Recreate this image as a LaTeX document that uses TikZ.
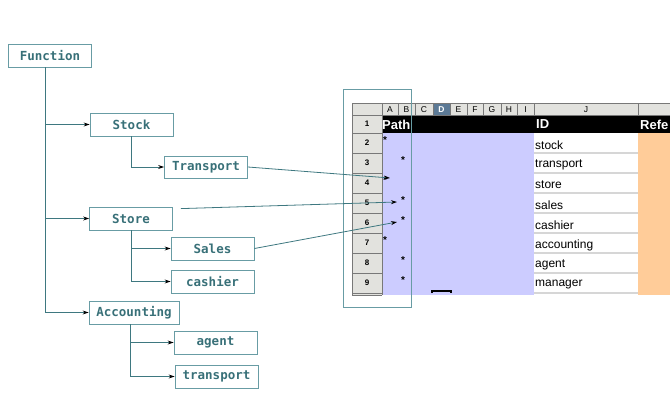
\documentclass[tikz,border=0pt]{standalone}
\usepackage{fontspec}
\setmainfont{Liberation Sans}
\newfontfamily\treefont{DejaVu Sans Mono}
\usetikzlibrary{positioning,arrows.meta}
\definecolor{tealline}{RGB}{62,120,128}
\definecolor{tealbox}{RGB}{104,156,164}
\definecolor{tealtext}{RGB}{56,112,120}
\definecolor{hdrgray}{RGB}{226,226,222}
\definecolor{gridgray}{RGB}{120,120,120}
\definecolor{lavender}{RGB}{204,204,255}
\definecolor{peach}{RGB}{255,204,153}
\definecolor{selcol}{RGB}{92,122,150}
\definecolor{sepgray}{RGB}{214,214,214}

\tikzset{
  fnbox/.style={draw=tealbox,line width=0.8pt,minimum width=83pt,minimum height=23pt,
    inner sep=0pt,text=tealtext,font=\treefont\bfseries\fontsize{12.5}{14}\selectfont},
  link/.style={draw=tealline,line width=0.8pt,-{Stealth[length=6pt,width=4pt,black]}},
  idtext/.style={anchor=west,inner sep=0pt,font=\fontsize{12}{13}\selectfont},
  rownum/.style={inner sep=0pt,font=\bfseries\fontsize{8}{9}\selectfont},
  colname/.style={inner sep=0pt,font=\fontsize{8.5}{9}\selectfont},
  star/.style={inner sep=0pt,font=\bfseries\fontsize{10}{10}\selectfont}
}

\begin{document}
\begin{tikzpicture}[x=1pt,y=-1pt]
\useasboundingbox (0,0) rectangle (670,400);

% tree of functions
\node[fnbox] (fn) at (50,55.5) {Function};
\node[fnbox] (stock) at (131.5,124.5) {Stock};
\node[fnbox,minimum height=22pt] (transp) at (206,167) {Transport};
\node[fnbox] (store) at (131,218.5) {Store};
\node[fnbox] (sales) at (212.5,248.5) {Sales};
\node[fnbox] (cashier) at (212.5,281.5) {cashier};
\node[fnbox,minimum width=90pt] (acct) at (134,312.5) {Accounting};
\node[fnbox] (agent) at (215.5,342.5) {agent};
\node[fnbox] (transp2) at (216.5,376.5) {transport};

\coordinate (trunk) at (45,0);
\draw[link] (trunk |- fn.south) |- (acct.west);
\draw[link] (trunk |- stock.west) -- (stock.west);
\draw[link] (trunk |- store.west) -- (store.west);
\draw[link] (stock.south) |- (transp.west);
\draw[link] (store.south) |- (sales.west);
\draw[link] (store.south) |- (cashier.west);
\draw[link] ([xshift=-4pt]acct.south) |- (agent.west);
\draw[link] ([xshift=-4pt]acct.south) |- (transp2.west);

% spreadsheet
\fill[hdrgray] (352,103) rectangle (670,115);
\fill[hdrgray] (352,115) rectangle (382,295);
\fill[selcol] (433,103) rectangle (450,115);
\fill[black] (382,115) rectangle (670,133);
\fill[lavender] (382,133) rectangle (534,295);
\fill[white] (534,133) rectangle (638,295);
\fill[peach] (638,133) rectangle (670,295);
\draw[gridgray,line width=0.6pt] (352,103) -- (670,103);
\draw[gridgray,line width=0.6pt] (352,115) -- (670,115);
\draw[gridgray,line width=1pt] (352,103) -- (352,295) -- (382,295);
\foreach \cx in {382,398,415,433,450,467,483,501,517,534,638}
  \draw[gridgray,line width=0.6pt] (\cx,103) -- (\cx,115);
\draw[gridgray,line width=0.6pt] (382,115) -- (382,295);
\foreach \ry in {133,153,173,193,213,233,253,273,293}
  \draw[gridgray,line width=0.6pt] (352,\ry) -- (382,\ry);
\foreach \ry in {153,173,193,213,233,253,273,293}
  \draw[sepgray,line width=1.5pt] (534,\ry) -- (638,\ry);
\draw[black,line width=1.5pt] (432,293) -- (432,291) -- (451,291) -- (451,293);

\foreach \name/\cx in {A/390,B/406.5,C/424,E/458.5,F/475,G/492,H/509,I/525.5,J/586}
  \node[colname] (col\name) at (\cx,109.5) {\name};
\node[colname,text=white,font=\bfseries\fontsize{8.5}{9}\selectfont] (colD) at (441.5,109.5) {D};

\foreach \r/\ry in {1/124,2/143,3/163,4/183,5/203,6/223,7/243,8/263,9/283}
  \node[rownum] (row\r) at (367,\ry) {\r};

\node[anchor=west,inner sep=0pt,text=white,font=\bfseries\fontsize{13}{14}\selectfont] (hpath) at (382,124.5) {Path};
\node[anchor=west,inner sep=0pt,text=white,font=\bfseries\fontsize{13}{14}\selectfont] (hid) at (536,124.5) {ID};
\node[anchor=west,inner sep=0pt,text=white,font=\bfseries\fontsize{13}{14}\selectfont] (href) at (640,124.5) {Refe};

\foreach \r/\word/\ry in {2/stock/145,3/transport/165,4/store/185,5/sales/205,6/cashier/225,7/accounting/245,8/agent/265,9/manager/285}
  \node[idtext] (id\r) at (535,\ry) {\word};

\foreach \r/\sx/\sy in {2/385/140,3/403/160,4/385/180,5/403/200,6/403/220,7/385/240,8/403/260,9/403/280}
  \node[star] (star\r) at (\sx,\sy) {*};

% frame round the path column
\draw[tealbox,line width=0.8pt] (343,89) rectangle (411,307);

% links into the sheet
\coordinate (c4) at (390,178);
\coordinate (c5) at (397,202);
\coordinate (c6) at (397,222);
\draw[link] (transp.east) -- (c4);
\draw[link] ([shift={(8,2)}]store.north east) -- (c5);
\draw[link] (sales.east) -- (c6);
\end{tikzpicture}
\end{document}
